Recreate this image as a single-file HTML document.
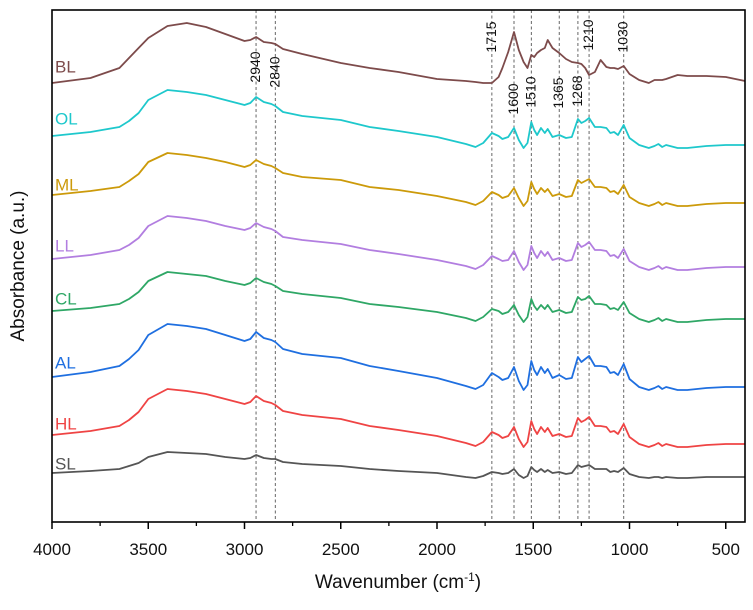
<!DOCTYPE html>
<html><head><meta charset="utf-8"><style>
html,body{margin:0;padding:0;background:#fff;}
svg{display:block;font-family:"Liberation Sans",Arial,sans-serif;}
</style></head><body>
<svg id="chart" width="753" height="610" viewBox="0 0 753 610" xmlns="http://www.w3.org/2000/svg">
<g id="guides"></g>
<g id="series"></g>
<g id="labels"></g>
<g id="axes"></g>
<text x="398" y="588" font-size="19" text-anchor="middle" fill="#111">Wavenumber (cm<tspan dy="-7" font-size="12">-1</tspan><tspan dy="7">)</tspan></text>
<text x="0" y="0" font-size="19" text-anchor="middle" fill="#111" transform="translate(24,266) rotate(-90)">Absorbance (a.u.)</text>
</svg>
<script>
const wavenumbers = [4000,3800,3650,3600,3550,3500,3400,3300,3200,3100,3000,2970,2940,2900,2860,2840,2800,2700,2500,2350,2200,2000,1850,1800,1760,1715,1680,1660,1630,1600,1575,1550,1530,1510,1495,1480,1460,1440,1425,1400,1365,1330,1300,1268,1250,1230,1210,1180,1150,1120,1100,1080,1060,1030,1000,950,900,870,850,830,810,750,700,600,500,400];
const seriesNames = ["BL","OL","ML","LL","CL","AL","HL","SL"];
const blValues = [439,444,454,464,474,484,496,499,495,488,481,482,485,480,479,478,473,468,459,454,450,443,441,440,439,439,445,454,470,490,472,460,454,467,465,469,472,474,482,474,469,463,460,459,458,454,447,450,462,455,454,454,453,456,448,442,439,442,442,442,443,447,446,446,445,441];
const olValues = [386,390,395,401,409,422,432,430,427,422,417,419,425,420,418,416,410,406,402,395,391,385,378,375,379,389,386,383,385,394,382,374,379,400,392,387,394,389,393,385,387,384,385,403,399,401,404,395,395,394,389,390,387,397,384,377,374,376,378,375,377,374,374,376,377,377];
const mlValues = [327,331,335,341,348,360,369,367,364,360,355,357,362,358,356,354,349,345,342,335,332,326,320,317,321,330,327,324,326,334,324,316,321,340,333,328,334,330,333,326,328,325,326,342,339,341,343,335,335,334,330,331,328,337,325,319,316,318,320,317,319,316,316,318,319,319];
const llValues = [263,267,272,277,284,296,306,304,301,296,292,294,299,295,293,291,285,282,278,272,268,262,256,253,257,266,263,261,262,271,260,252,257,276,269,264,271,266,270,262,264,261,262,279,275,277,280,272,272,271,266,267,264,273,261,255,252,254,256,253,255,252,252,254,255,255];
const clValues = [211,214,218,223,230,241,250,248,246,241,237,239,244,240,238,236,231,228,224,218,215,210,204,201,205,213,211,208,210,217,207,200,205,223,216,212,217,213,217,210,212,209,210,225,222,223,226,218,218,217,213,214,212,220,209,203,200,202,204,201,203,200,200,202,203,203];
const alValues = [145,150,156,163,172,187,198,196,193,187,181,183,190,184,182,180,173,168,164,156,151,144,136,133,137,149,145,142,144,155,141,132,137,161,152,147,155,149,153,144,147,143,144,165,160,163,166,156,156,155,149,150,147,158,143,135,132,134,136,133,135,132,132,134,135,135];
const hlValues = [87,91,96,102,110,123,133,131,128,123,118,120,126,121,119,117,111,107,103,96,92,86,79,76,80,90,87,84,86,95,83,75,80,101,93,88,95,90,94,86,88,85,86,104,100,102,105,96,96,95,90,91,88,98,85,78,75,77,79,76,78,75,75,77,78,78];
const slValues = [49,51,53,56,59,65,70,69,68,65,63,64,67,64,63,63,60,58,56,53,51,49,45,44,46,50,49,48,49,53,47,44,46,55,52,50,53,50,52,49,50,48,49,57,55,56,57,53,53,53,50,51,50,54,48,45,44,45,45,44,45,44,44,45,45,45];
const labelValues = [455,403,337,276,223,159,98,58];
const peakPositions = [2940,2840,1715,1600,1510,1365,1268,1210,1030];
const peakLabelHeights = [455,450,485,423,430,429,431,487,485];
const xTicks = [4000,3500,3000,2500,2000,1500,1000,500];
const xMinorTicks = [3750,3250,2750,2250,1750,1250,750];

const L=52,R=745,T=10,B=522;
const xMax=4000,xMin=400;
function xs(w){return L+(xMax-w)*(R-L)/(xMax-xMin);}
function ys(v){return B-v;}
const NS="http://www.w3.org/2000/svg";
function mk(tag,attrs,parent){const e=document.createElementNS(NS,tag);for(const k in attrs)e.setAttribute(k,attrs[k]);parent.appendChild(e);return e;}

const allValues=[blValues,olValues,mlValues,llValues,clValues,alValues,hlValues,slValues];
const colors=["#7d4b4b","#1ec8cc","#cc9a0a","#b27ee0","#2fa766","#1f6fe0","#ef4444","#555555"];

const guides=document.getElementById('guides');
const labels=document.getElementById('labels');
peakPositions.forEach((p,i)=>{
  const ln=mk('line',{x1:xs(p),x2:xs(p),y1:T,y2:B,stroke:'#555','stroke-width':0.9,'stroke-dasharray':'3,2.5'},guides);
  
  
  const cy=ys(peakLabelHeights[i]);
  const t=mk('text',{x:0,y:0,'font-size':14,'text-anchor':'middle','dominant-baseline':'central',fill:'#111',transform:`translate(${xs(p)-1},${cy}) rotate(-90)`},labels);
  t.textContent=String(p);
  
  
});

const sg=document.getElementById('series');
allValues.forEach((vals,si)=>{
  const d=vals.map((v,i)=>(i?'L':'M')+xs(wavenumbers[i]).toFixed(1)+' '+ys(v).toFixed(1)).join(' ');
  const p=mk('path',{d:d,fill:'none',stroke:colors[si],'stroke-width':1.8,'stroke-linejoin':'round'},sg);
  
  
  const t=mk('text',{x:55,y:ys(labelValues[si]),'font-size':17,fill:colors[si],'dominant-baseline':'central'},sg);
  t.textContent=seriesNames[si];
  
  
});

const ax=document.getElementById('axes');
const fr=mk('rect',{x:L,y:T,width:R-L,height:B-T,fill:'none',stroke:'#000','stroke-width':1.6},ax);


xTicks.forEach(w=>{
  const tk=mk('line',{x1:xs(w),x2:xs(w),y1:B,y2:B+7,stroke:'#000','stroke-width':1.5},ax);
  
  
  const t=mk('text',{x:xs(w),y:555,'font-size':17,'text-anchor':'middle',fill:'#111'},ax);
  t.textContent=String(w);
  
  
});
xMinorTicks.forEach(w=>{
  const tk=mk('line',{x1:xs(w),x2:xs(w),y1:B,y2:B+4,stroke:'#000','stroke-width':1.3},ax);
  
  
});
</script>
</body></html>
